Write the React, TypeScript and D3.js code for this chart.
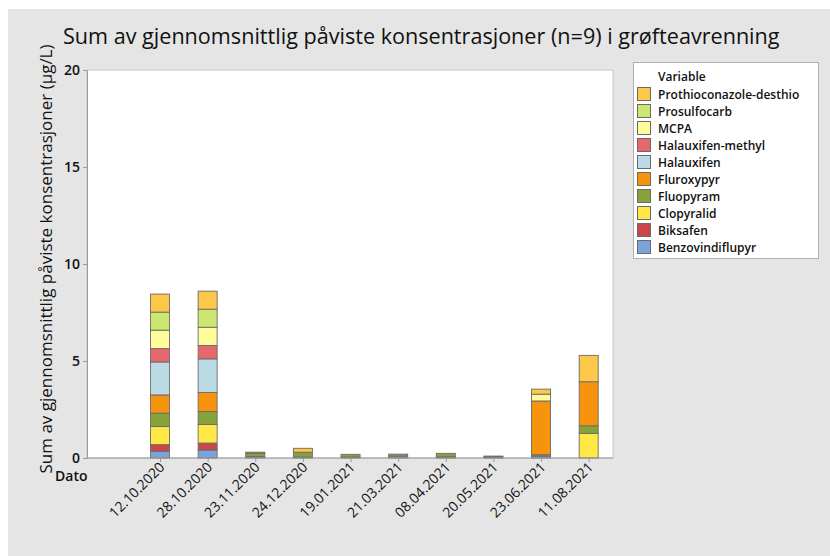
import * as d3 from 'd3';
import React, { useEffect, useRef } from 'react';

const dates = [
  '12.10.2020', '28.10.2020', '23.11.2020', '24.12.2020', '19.01.2021',
  '21.03.2021', '08.04.2021', '20.05.2021', '23.06.2021', '11.08.2021',
];

// stacking order, bottom to top
const substances = [
  'Benzovindiflupyr', 'Biksafen', 'Clopyralid', 'Fluopyram', 'Fluroxypyr',
  'Halauxifen', 'Halauxifen-methyl', 'MCPA', 'Prosulfocarb', 'Prothioconazole-desthio',
];

const colors = [
  '#7ba5da', '#cb4646', '#ffe845', '#88a23a', '#f7940d',
  '#badae5', '#e6686c', '#fffc9b', '#cbe76f', '#fdc849',
];

// values per substance, one per date (µg/L)
const benzovindiflupyr = [0.35, 0.41, 0.07, 0.05, 0.05, 0.1, 0.06, 0.05, 0.1, 0];
const biksafen = [0.34, 0.36, 0, 0, 0, 0, 0, 0, 0, 0];
const clopyralid = [0.93, 0.96, 0, 0, 0, 0, 0, 0, 0, 1.27];
const fluopyram = [0.69, 0.67, 0.17, 0.25, 0.14, 0.1, 0.18, 0.05, 0.07, 0.39];
const fluroxypyr = [0.94, 0.98, 0.06, 0, 0, 0, 0, 0, 2.77, 2.27];
const halauxifen = [1.7, 1.73, 0, 0, 0, 0, 0, 0, 0, 0];
const halauxifenMethyl = [0.69, 0.69, 0, 0, 0, 0, 0, 0, 0, 0];
const mcpa = [0.95, 0.94, 0, 0, 0, 0, 0, 0, 0.35, 0];
const prosulfocarb = [0.93, 0.93, 0, 0, 0, 0, 0, 0, 0, 0];
const prothioconazole = [0.93, 0.93, 0, 0.2, 0, 0, 0, 0, 0.26, 1.36];

const series = [
  benzovindiflupyr, biksafen, clopyralid, fluopyram, fluroxypyr,
  halauxifen, halauxifenMethyl, mcpa, prosulfocarb, prothioconazole,
];

const yTicks = [0, 5, 10, 15, 20];

const font = '"Open Sans", "Noto Sans", sans-serif';

const App = () => {
  const ref = useRef<SVGSVGElement>(null);

  useEffect(() => {
    const svg = d3.select(ref.current);
    svg.selectAll('*').remove();

    const W = 830;
    const H = 556;
    const plot = { left: 87, right: 613, top: 70, bottom: 458 };

    svg.append('rect').attr('x', 0).attr('y', 0).attr('width', W).attr('height', H).attr('fill', '#fff');
    svg.append('rect').attr('x', 8).attr('y', 9).attr('width', W - 8).attr('height', H - 9).attr('fill', '#e5e5e5');

    const table = dates.map((d, i) => {
      const row: Record<string, any> = { date: d };
      substances.forEach((s, j) => (row[s] = series[j][i]));
      return row;
    });

    const x = d3.scalePoint<string>().domain(dates).range([160, 588.7]);
    const y = d3.scaleLinear().domain([0, 20]).range([plot.bottom, plot.top]);
    const barW = 19;

    svg
      .append('rect')
      .attr('x', plot.left)
      .attr('y', plot.top)
      .attr('width', plot.right - plot.left)
      .attr('height', plot.bottom - plot.top)
      .attr('fill', '#fff')
      .attr('stroke', '#c8c8c8');

    const stacked = d3.stack<any>().keys(substances)(table);

    const g = svg.append('g');
    stacked.forEach((layer, j) => {
      g.selectAll(null)
        .data(layer.filter(d => d[1] - d[0] > 0))
        .join('rect')
        .attr('x', d => (x(d.data.date) as number) - barW / 2)
        .attr('y', d => y(d[1]))
        .attr('width', barW)
        .attr('height', d => y(d[0]) - y(d[1]))
        .attr('fill', colors[j])
        .attr('stroke', '#6a6a6a')
        .attr('stroke-width', 0.9);
    });

    // axes
    const yAxis = svg
      .append('g')
      .attr('transform', `translate(${plot.left},0)`)
      .call(d3.axisLeft(y).tickValues(yTicks).tickSize(4).tickPadding(3));
    yAxis.select('.domain').attr('stroke', '#9a9a9a');
    yAxis.selectAll('.tick line').attr('stroke', '#9a9a9a');
    yAxis
      .selectAll('.tick text')
      .attr('font-family', font)
      .attr('font-size', 14)
      .attr('font-weight', 600)
      .attr('fill', '#111');

    const xAxis = svg
      .append('g')
      .attr('transform', `translate(0,${plot.bottom})`)
      .call(d3.axisBottom(x).tickSize(4).tickSizeOuter(0));
    xAxis.select('.domain').attr('stroke', '#9a9a9a').attr('d', `M${plot.left},0H${plot.right}`);
    xAxis.selectAll('.tick line').attr('stroke', '#9a9a9a');
    xAxis
      .selectAll('.tick text')
      .attr('font-family', font)
      .attr('font-size', 14)
      .attr('font-weight', 500)
      .attr('fill', '#111')
      .attr('text-anchor', 'end')
      .attr('x', 0)
      .attr('y', 0)
      .attr('dy', 0)
      .attr('transform', 'translate(5,10) rotate(-45)');

    // titles
    svg
      .append('text')
      .attr('x', 63)
      .attr('y', 44)
      .attr('font-family', font)
      .attr('font-size', 21.6)
      .attr('fill', '#111')
      .text('Sum av gjennomsnittlig påviste konsentrasjoner (n=9) i grøfteavrenning');

    svg
      .append('text')
      .attr('transform', 'translate(52,259) rotate(-90)')
      .attr('text-anchor', 'middle')
      .attr('font-family', font)
      .attr('font-size', 17)
      .attr('fill', '#111')
      .text('Sum av gjennomsnittlig påviste konsentrasjoner (µg/L)');

    svg
      .append('text')
      .attr('x', 55)
      .attr('y', 481)
      .attr('font-family', font)
      .attr('font-size', 14)
      .attr('font-weight', 600)
      .attr('fill', '#111')
      .text('Dato');

    // legend
    const lg = svg.append('g');
    lg.append('rect')
      .attr('x', 633.5)
      .attr('y', 62.5)
      .attr('width', 185)
      .attr('height', 196)
      .attr('fill', '#fff')
      .attr('stroke', '#b0b0b0');
    lg.append('text')
      .attr('x', 658)
      .attr('y', 81)
      .attr('font-family', font)
      .attr('font-size', 12)
      .attr('font-weight', 600)
      .attr('fill', '#111')
      .text('Variable');
    const legendItems = substances.map((s, j) => ({ s, c: colors[j] })).reverse();
    const ly = d3.scaleBand<string>().domain(legendItems.map(d => d.s)).range([85, 255]);
    const item = lg
      .selectAll('g.item')
      .data(legendItems)
      .join('g')
      .attr('class', 'item')
      .attr('transform', d => `translate(0,${ly(d.s)})`);
    item
      .append('rect')
      .attr('x', 637.5)
      .attr('y', 2.5)
      .attr('width', 13)
      .attr('height', 13)
      .attr('fill', d => d.c)
      .attr('stroke', '#6a6a6a');
    item
      .append('text')
      .attr('x', 658)
      .attr('y', 13.5)
      .attr('font-family', font)
      .attr('font-size', 12)
      .attr('font-weight', 600)
      .attr('fill', '#111')
      .text(d => d.s);
  }, []);

  return <svg ref={ref} width={830} height={556} style={{ position: 'absolute', left: 0, top: 0 }} />;
};

export default App;
